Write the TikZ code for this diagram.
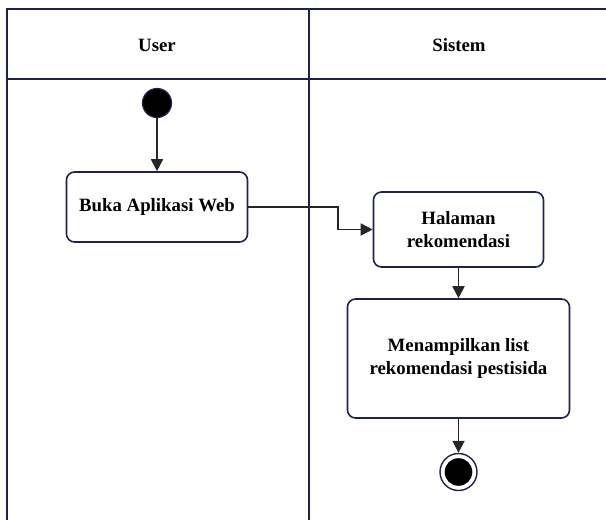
\documentclass[tikz,border=0pt]{standalone}
\usepackage{fontspec}
\setmainfont{Liberation Serif}
\usepackage{xcolor}
\usetikzlibrary{arrows.meta}
\definecolor{lajur}{RGB}{30,34,80}
\definecolor{panah}{RGB}{38,38,38}

\tikzset{
  aktivitas/.style={draw=lajur, line width=0.8pt, rounded corners=4pt, fill=white,
    align=center, font=\bfseries\fontsize{9.4}{11.5}\selectfont, inner sep=0pt},
  alur/.style={-{Triangle[length=6pt,width=6pt]}, draw=panah, line width=0.9pt},
}

\begin{document}
\begin{tikzpicture}[x=0.5pt, y=-0.5pt]
    \useasboundingbox (0,0) rectangle (606,520);
    % swimlane frame
    \draw[lajur, line width=1.1pt] (606,9) -- (7,9) -- (7,520);
    \draw[lajur, line width=1.1pt] (7,79) -- (606,79);
    \draw[lajur, line width=1.1pt] (309,9) -- (309,520);
    \node[font=\bfseries\fontsize{9.4}{11}\selectfont] (lajuruser) at (157,45) {User};
    \node[font=\bfseries\fontsize{9.4}{11}\selectfont] (lajursistem) at (459,45) {Sistem};
    % start and end points
    \node[circle, fill=black, draw=lajur, line width=0.6pt, minimum size=14.5pt, inner sep=0pt] (mulai) at (157,103) {};
    \node[circle, fill=white, draw=lajur, line width=0.7pt, minimum size=18.5pt, inner sep=0pt] (selesai) at (458.5,472) {};
    \fill[black] (selesai) circle (6.9pt);
    % activities
    \node[aktivitas, minimum width=90.5pt, minimum height=35pt] (buka) at (157,207) {Buka Aplikasi Web};
    \node[aktivitas, minimum width=85pt, minimum height=37.5pt] (halaman) at (458.5,229.5) {Halaman\\rekomendasi};
    \node[aktivitas, minimum width=111pt, minimum height=59.5pt] (tampil) at (458.5,358.5) {Menampilkan list\\rekomendasi pestisida};
    % flow
    \draw[alur] (mulai) -- (buka);
    \draw[alur] (buka.east) -- ++(90,0) |- (halaman.west);
    \draw[alur] (halaman) -- (tampil);
    \draw[alur] (tampil) -- (selesai);
\end{tikzpicture}
\end{document}
